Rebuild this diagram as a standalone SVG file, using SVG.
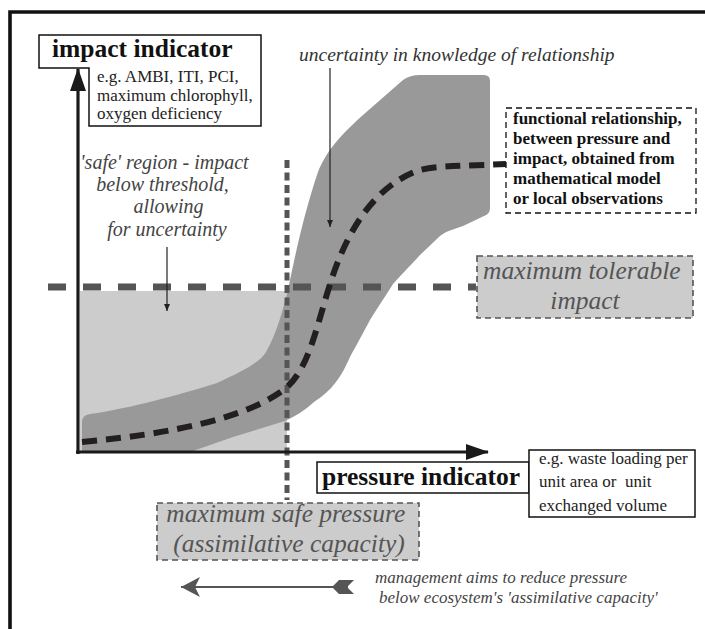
<svg xmlns="http://www.w3.org/2000/svg" width="705" height="629" viewBox="0 0 705 629">
<style>
.serif{font-family:"Liberation Serif","Times New Roman",serif}
.bold{font-weight:bold;fill:#111}
.it{font-style:italic}
.box{fill:#fff;stroke:#111;stroke-width:1.5}
.gbox{fill:#cccccc;stroke:#555;stroke-width:1.6;stroke-dasharray:6 4}
.thr{fill:none;stroke:#555;stroke-width:7;stroke-dasharray:18 17}
.vthr{fill:none;stroke:#555;stroke-width:5;stroke-dasharray:8 4.5}
.axis{fill:none;stroke:#1a1a1a;stroke-width:3.2}
.thin{fill:none;stroke:#222;stroke-width:1.2}
</style>
<defs>
<marker id="ah" markerUnits="userSpaceOnUse" markerWidth="24" markerHeight="18" refX="22" refY="8" orient="auto">
<path d="M0,0 L23,8 L0,16 Z" fill="#1a1a1a"/>
</marker>
<marker id="sah" markerUnits="userSpaceOnUse" markerWidth="8" markerHeight="8" refX="7" refY="3" orient="auto">
<path d="M0,0 L7,3 L0,6 Z" fill="#222"/>
</marker>
<marker id="mah" markerUnits="userSpaceOnUse" markerWidth="22" markerHeight="24" refX="19" refY="11" orient="auto">
<path d="M0,1 L19,11 L0,21 L5,11 Z" fill="#555"/>
</marker>
</defs>
<rect width="705" height="629" fill="#fff"/>
<!-- frame -->
<path d="M10,640 V12 H720" fill="none" stroke="#111" stroke-width="3.6"/>

<g id="safe-region">
<rect x="80" y="291" width="207" height="161" fill="#cccccc"/>
</g>
<g id="uncertainty-band">
<path d="M82,452 V422 Q82,415 90,414 C120,410 170,398 217,383 C245,370 260,362 266,352 C276,335 283,310 288,290 C295,255 305,210 318,172 C325,155 335,140 363,115 L403,80 Q410,75 420,75 H484 Q490,75 490,81 V208 Q490,214 484,216 L463,226 C455,229 448,230 440,236 L420,255 C408,268 400,276 393,284 C383,300 376,310 370,320 C362,335 356,346 350,357 C346,366 342,374 336,382 C330,390 323,396 314,402 C305,410 296,416 285,421 L233,437 L190,452 Z" fill="#999999"/>
</g>

<g id="connectors">
<line class="thr" x1="48" y1="287" x2="476" y2="287"/>
<line class="vthr" x1="287" y1="160" x2="287" y2="500"/>
<path d="M82,442 C170,434 250,418 287,387 C310,367 318,320 332,278 C348,230 375,185 420,170 C440,165 470,166 506,164" fill="none" stroke="#231f20" stroke-width="6" stroke-dasharray="15 9"/>
<line class="axis" x1="78" y1="454" x2="78" y2="69" marker-end="url(#ah)"/>
<line class="axis" x1="76" y1="452" x2="488" y2="452" marker-end="url(#ah)"/>
<line class="thin" x1="330" y1="68" x2="330" y2="227" marker-end="url(#sah)"/>
<line class="thin" x1="167" y1="247" x2="167" y2="311" marker-end="url(#sah)"/>
<line x1="348" y1="587" x2="181" y2="587" stroke="#555" stroke-width="2.2" marker-end="url(#mah)"/>
<path d="M332,587 L339,580 H354 L347,587 L354,594 H339 Z" fill="#555"/>
</g>

<g id="impact-indicator">
<path class="box" d="M39,35 H261 V126 H89 V68 H39 Z"/>
<text class="serif bold" x="52" y="57" font-size="25.5">impact indicator</text>
<text class="serif" x="97" y="82" font-size="17" fill="#222">e.g. AMBI, ITI, PCI,</text>
<text class="serif" x="97" y="101" font-size="17" fill="#222">maximum chlorophyll,</text>
<text class="serif" x="97" y="119" font-size="17" fill="#222">oxygen deficiency</text>
</g>

<g id="uncertainty-label">
<text class="serif it" x="299" y="61" font-size="19.5" fill="#333">uncertainty in knowledge of relationship</text>
</g>

<g id="functional-relationship">
<rect x="506" y="108" width="190" height="105" fill="#fff" stroke="#111" stroke-width="1.3" stroke-dasharray="6 4"/>
<text class="serif bold" x="513" y="124" font-size="17">functional relationship,</text>
<text class="serif bold" x="513" y="144" font-size="17">between pressure and</text>
<text class="serif bold" x="513" y="164" font-size="17">impact, obtained from</text>
<text class="serif bold" x="513" y="184" font-size="17">mathematical model</text>
<text class="serif bold" x="513" y="204" font-size="17">or local observations</text>
</g>

<g id="safe-label">
<text class="serif it" font-size="20" fill="#444" text-anchor="middle">
<tspan x="167" y="169">'safe' region - impact</tspan>
<tspan x="165" y="191">below threshold,</tspan>
<tspan x="171" y="213">allowing</tspan>
<tspan x="167" y="236">for uncertainty</tspan>
</text>
</g>

<g id="max-tolerable-impact">
<rect class="gbox" x="477" y="256" width="216" height="62"/>
<text class="serif it" font-size="25.5" fill="#555" text-anchor="middle">
<tspan x="585" y="279">maximum tolerable</tspan>
<tspan x="585" y="309">impact</tspan>
</text>
</g>

<g id="pressure-indicator">
<rect class="box" x="317" y="462" width="212" height="31"/>
<rect class="box" x="529" y="450" width="166" height="67"/>
<text class="serif bold" x="322" y="485" font-size="25.5">pressure indicator</text>
<text class="serif" x="539" y="464" font-size="17" fill="#222">e.g. waste loading per</text>
<text class="serif" x="539" y="487" font-size="17" fill="#222">unit area or&#160; unit</text>
<text class="serif" x="539" y="511" font-size="17" fill="#222">exchanged volume</text>
</g>

<g id="max-safe-pressure">
<rect class="gbox" x="157" y="503" width="262" height="57"/>
<text class="serif it" font-size="25.5" fill="#555" text-anchor="middle">
<tspan x="289" y="522">maximum safe pressure</tspan>
<tspan x="289" y="552">(assimilative capacity)</tspan>
</text>
</g>

<g id="management-note">
<text class="serif it" font-size="17" fill="#444">
<tspan x="375" y="583">management aims to reduce pressure</tspan>
<tspan x="379" y="603">below ecosystem's 'assimilative capacity'</tspan>
</text>
</g>
</svg>
